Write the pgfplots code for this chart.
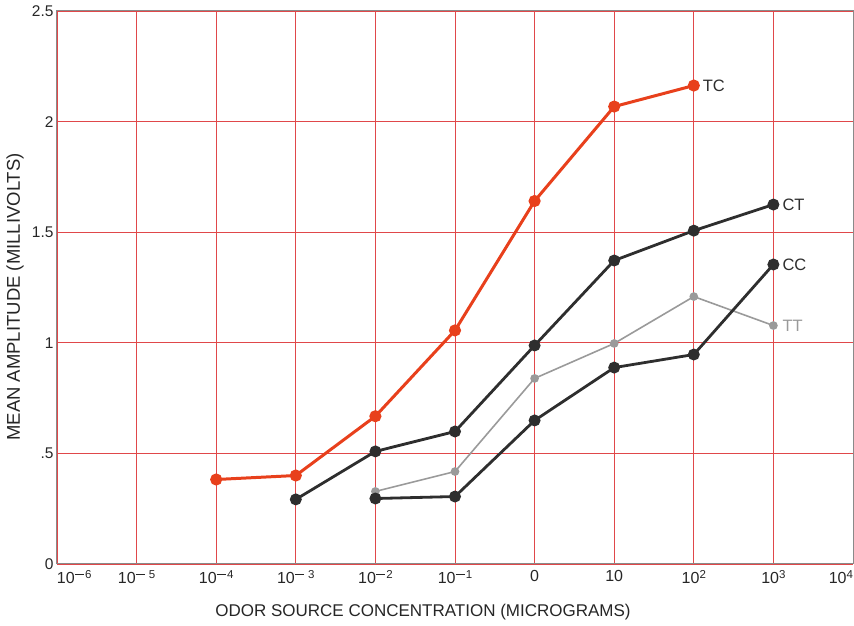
\documentclass[border=0pt]{standalone}
\usepackage{pgfplots}
\pgfplotsset{compat=1.18}
\usepackage{fontspec}
\setmainfont{Liberation Sans}
\definecolor{gridred}{HTML}{E0484A}
\definecolor{tcred}{HTML}{E8401C}
\definecolor{dark}{HTML}{2E2E2E}
\definecolor{ttgray}{HTML}{9A9A9A}
\definecolor{framegray}{HTML}{8A8A8A}
\newcommand\sups[1]{\raisebox{5pt}{\fontsize{11.5}{13}\selectfont #1}}
\newcommand\mns{\rule[3.6pt]{9.5pt}{1.3pt}\kern0.8pt}
\begin{document}
\begin{tikzpicture}[x=1pt,y=1pt]
\useasboundingbox (0,0) rectangle (854,626);
\begin{axis}[
  at={(57pt,62pt)}, anchor=south west,
  scale only axis, width=796pt, height=553pt,
  xmin=0, xmax=10, ymin=0, ymax=2.5,
  xtick={0,1,2,3,4,5,6,7,8,9,10},
  xticklabels={\hphantom{10\sups{\mns6}}10\sups{\mns6},10\sups{\mns\kern3pt5},10\sups{\mns4},10\sups{\mns\kern3pt3},10\sups{\mns2},10\sups{\mns1},0,10,10\sups{2},10\sups{3},10\sups{4}\hphantom{10\sups{4}}},
  ytick={0,0.5,1,1.5,2,2.5},
  yticklabels={0,.5,1,1.5,2,\raisebox{-7pt}{2.5}},
  yticklabel style={font=\fontsize{15.5}{17}\selectfont, text=black!85},
  xticklabel style={font=\fontsize{16}{18}\selectfont, text=black!85, yshift=-3pt},
  major tick length=0pt,
  grid=major,
  major grid style={draw=gridred, line width=0.7pt},
  axis line style={draw=framegray, line width=1pt},
  clip=false,
]
\addplot[color=tcred, line width=3pt, mark=*, mark size=4.5pt, mark options={fill=tcred, draw=tcred}] coordinates {
  (2,0.382) (3,0.400) (4,0.668) (5,1.056) (6,1.641) (7,2.068) (8,2.163)};
\addplot[color=dark, line width=2.8pt, mark=*, mark size=4.5pt, mark options={fill=dark, draw=dark}] coordinates {
  (3,0.292) (4,0.509) (5,0.599) (6,0.988) (7,1.372) (8,1.507) (9,1.625)};
\addplot[color=ttgray, line width=1.6pt, mark=*, mark size=3.5pt, mark options={fill=ttgray, draw=ttgray}] coordinates {
  (4,0.328) (5,0.418) (6,0.839) (7,0.997) (8,1.209) (9,1.078)};
\addplot[color=dark, line width=2.8pt, mark=*, mark size=4.5pt, mark options={fill=dark, draw=dark}] coordinates {
  (4,0.296) (5,0.305) (6,0.649) (7,0.888) (8,0.947) (9,1.354)};
\node[anchor=west, font=\fontsize{16.5}{18}\selectfont, text=dark] at (axis cs:8.07,2.163) {TC};
\node[anchor=west, font=\fontsize{16.5}{18}\selectfont, text=dark] at (axis cs:9.07,1.625) {CT};
\node[anchor=west, font=\fontsize{16.5}{18}\selectfont, text=dark] at (axis cs:9.07,1.354) {CC};
\node[anchor=west, font=\fontsize{16.5}{18}\selectfont, text=ttgray] at (axis cs:9.07,1.078) {TT};
\end{axis}
\node[rotate=90, font=\fontsize{18.5}{20}\selectfont, text=black!85] at (15,329) {MEAN AMPLITUDE (MILLIVOLTS)};
\node[font=\fontsize{17}{19}\selectfont, text=black!85] at (423,14) {ODOR SOURCE CONCENTRATION (MICROGRAMS)};
\end{tikzpicture}
\end{document}
